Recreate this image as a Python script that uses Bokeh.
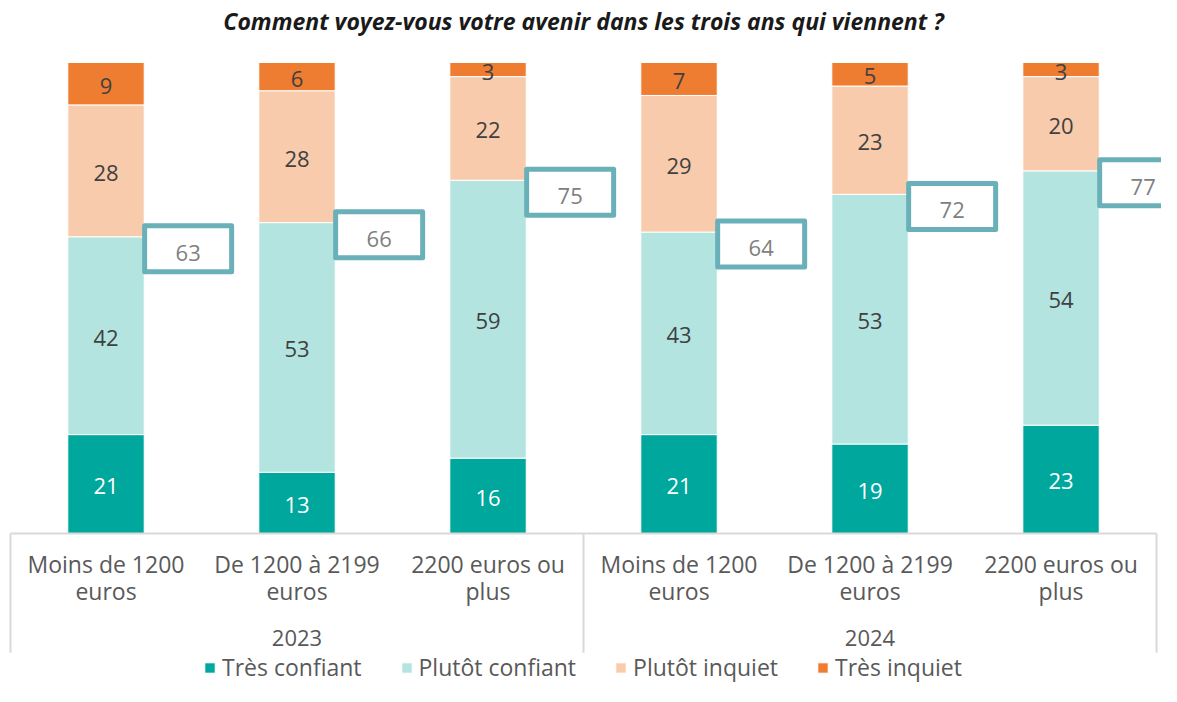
from bokeh.plotting import figure
from bokeh.models import ColumnDataSource, Legend, LegendItem, Range1d
from bokeh.core.properties import value
from bokeh.embed import file_html
from bokeh.resources import INLINE

title = "Comment voyez-vous votre avenir dans les trois ans qui viennent ?"
years = ["2023", "2024"]
incomes = ["Moins de 1200\neuros", "De 1200 à 2199\neuros", "2200 euros ou\nplus"]
series = ["Très confiant", "Plutôt confiant", "Plutôt inquiet", "Très inquiet"]
tres_confiant = [21, 13, 16, 21, 19, 23]
plutot_confiant = [42, 53, 59, 43, 53, 54]
plutot_inquiet = [28, 28, 22, 29, 23, 20]
tres_inquiet = [9, 6, 3, 7, 5, 3]
confiant_total = [63, 66, 75, 64, 72, 77]
colors = ["#00A79D", "#B3E4E0", "#F8CBAD", "#EE7D31"]
label_colors = ["#FFFFFF", "#404040", "#404040", "#404040"]

FONT = "Open Sans"
n = len(years) * len(incomes)
xs = [i + 0.5 for i in range(n)]
values = [tres_confiant, plutot_confiant, plutot_inquiet, tres_inquiet]

src = ColumnDataSource(dict(x=xs, **{s: v for s, v in zip(series, values)}))

p = figure(width=1161, height=686, output_backend="svg", toolbar_location=None,
           x_range=Range1d(-0.0524, 6.026), y_range=Range1d(-32.48, 113.16),
           min_border=0, outline_line_color=None)
p.axis.visible = False
p.grid.visible = False
p.background_fill_color = "white"

rs = p.vbar_stack(series, x="x", width=0.40, source=src, color=colors,
                  line_color="white", line_width=1)

# segment labels
base = [0] * n
for vals, col in zip(values, label_colors):
    mids = [b + v / 2 for b, v in zip(base, vals)]
    p.text(x=xs, y=mids, text=[str(v) for v in vals], text_align="center",
           text_baseline="middle", text_font=value(FONT), text_font_size="22px",
           text_color=col, y_offset=2)
    base = [b + v for b, v in zip(base, vals)]

# total boxes
bx = [x + 0.43 for x in xs]
by = [t - 2.55 for t in confiant_total]
p.rect(x=bx, y=by, width=87, height=46, width_units="screen", height_units="screen",
       fill_color="white", line_color="#6AB0B8", line_width=5, line_join="round")
p.text(x=bx, y=by, text=[str(t) for t in confiant_total], text_align="center",
       text_baseline="middle", text_font=value(FONT), text_font_size="22px",
       text_color="#808080", y_offset=4)

# category axis
p.segment(x0=[0], y0=[0], x1=[n], y1=[0], line_color="#D9D9D9", line_width=2)
p.segment(x0=[0, 3, 6], y0=[0, 0, 0], x1=[0, 3, 6], y1=[-25.3] * 3,
          line_color="#D9D9D9", line_width=2)
cats = incomes * len(years)
l1 = [c.split("\n")[0] for c in cats]
l2 = [c.split("\n")[1] for c in cats]
p.text(x=xs, y=[-6.4] * n, text=l1, text_align="center", text_baseline="middle",
       text_font=value(FONT), text_font_size="23px", text_color="#595959")
p.text(x=xs, y=[-12.3] * n, text=l2, text_align="center", text_baseline="middle",
       text_font=value(FONT), text_font_size="23px", text_color="#595959")
p.text(x=[1.5, 4.5], y=[-22.1, -22.1], text=years, text_align="center",
       text_baseline="middle", text_font=value(FONT), text_font_size="22px",
       text_color="#595959")

# title
p.text(x=[3.0], y=[108.9], text=[title], text_align="center", text_baseline="middle",
       text_font=value(FONT), text_font_style="bold italic", text_font_size="23px",
       text_color="#1A1A1A")

legend = Legend(items=[LegendItem(label=s, renderers=[r]) for s, r in zip(series, rs)],
                orientation="horizontal", location=(203, 3), margin=0, padding=0,
                spacing=38, glyph_width=13, glyph_height=13, label_standoff=6,
                label_text_font=FONT, label_text_font_size="23px",
                label_text_color="#595959", border_line_color=None,
                background_fill_alpha=0, label_height=24)
p.add_layout(legend, "center")

open("out.html", "w").write(file_html(p, INLINE))
